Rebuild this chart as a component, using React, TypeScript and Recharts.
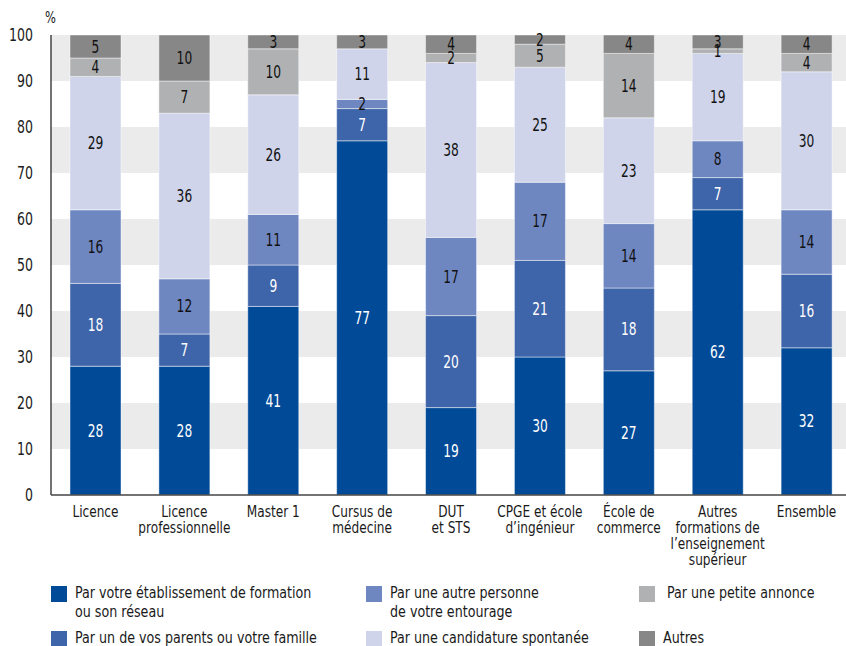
import React from 'react';
import { BarChart, Bar, XAxis, YAxis, CartesianGrid, LabelList } from 'recharts';

const categories = [
  'Licence',
  'Licence\nprofessionnelle',
  'Master 1',
  'Cursus de\nmédecine',
  'DUT\net STS',
  'CPGE et école\nd’ingénieur',
  'École de\ncommerce',
  'Autres\nformations de\nl’enseignement\nsupérieur',
  'Ensemble',
];

const etablissement = [28, 28, 41, 77, 19, 30, 27, 62, 32];
const parents = [18, 7, 9, 7, 20, 21, 18, 7, 16];
const entourage = [16, 12, 11, 2, 17, 17, 14, 8, 14];
const spontanee = [29, 36, 26, 11, 38, 25, 23, 19, 30];
const annonce = [4, 7, 10, 0, 2, 5, 14, 1, 4];
const autres = [5, 10, 3, 3, 4, 2, 4, 3, 4];

const yTicks = [0, 10, 20, 30, 40, 50, 60, 70, 80, 90, 100];

const series = [
  { key: 'etablissement', name: 'Par votre établissement de formation\nou son réseau', color: '#004a97', text: '#ffffff', values: etablissement },
  { key: 'parents', name: 'Par un de vos parents ou votre famille', color: '#3e64a9', text: '#ffffff', values: parents },
  { key: 'entourage', name: 'Par une autre personne\nde votre entourage', color: '#6f87c1', text: '#111111', values: entourage },
  { key: 'spontanee', name: 'Par une candidature spontanée', color: '#cfd4ea', text: '#111111', values: spontanee },
  { key: 'annonce', name: ' Par une petite annonce', color: '#b0b1b3', text: '#111111', values: annonce },
  { key: 'autres', name: 'Autres', color: '#878787', text: '#111111', values: autres },
];

const data = categories.map((c, i) => {
  const row: Record<string, any> = { cat: c };
  series.forEach((s) => {
    row[s.key] = s.values[i];
  });
  return row;
});

const FONT = '"DejaVu Sans Condensed", "DejaVu Sans", sans-serif';

const XTick = (props: any) => {
  const { x, y, payload } = props;
  const lines = String(payload.value).split('\n');
  return (
    <g transform={`translate(${x},${y})`}>
      {lines.map((l: string, i: number) => (
        <text
          key={i}
          transform={`translate(0,${22 + i * 16}) scale(0.9,1)`}
          textAnchor="middle"
          fontSize={15}
          fill="#1a1a1a"
          fontFamily={FONT}
        >
          {l}
        </text>
      ))}
    </g>
  );
};

const YTick = (props: any) => {
  const { x, y, payload } = props;
  return (
    <text
      transform={`translate(${x},${y + 6}) scale(0.82,1)`}
      textAnchor="end"
      fontSize={17}
      fill="#1a1a1a"
      fontFamily={FONT}
    >
      {payload.value}
    </text>
  );
};

const makeLabel = (color: string) => (props: any) => {
  const { x, y, width, height, value } = props;
  if (!value) return null;
  const cx = Number(x) + Number(width) / 2;
  const cy = Number(y) + Number(height) / 2;
  return (
    <text
      transform={`translate(${cx},${cy + 6}) scale(0.8,1)`}
      textAnchor="middle"
      fontSize={17}
      fill={color}
      fontFamily={FONT}
    >
      {value}
    </text>
  );
};

const legendPos = [
  { col: 0, row: 0 },
  { col: 0, row: 1 },
  { col: 1, row: 0 },
  { col: 1, row: 1 },
  { col: 2, row: 0 },
  { col: 2, row: 1 },
];
const colX = [51, 366, 639];
const rowY = [586, 631];

export default function App() {
  return (
    <div style={{ position: 'absolute', left: 0, top: 0, width: 846, height: 646, overflow: 'hidden', background: '#fff', fontFamily: FONT }}>
      <div style={{ position: 'absolute', left: 45, top: 9, fontSize: 15, color: '#1a1a1a', transform: 'scaleX(0.85)', transformOrigin: 'left top' }}>%</div>
      <BarChart
        width={851}
        height={580}
        data={data}
        margin={{ top: 35, right: 0, left: 0, bottom: 0 }}
        barSize={51}
      >
        <CartesianGrid
          vertical={false}
          horizontal={true}
          stroke="#ffffff"
          strokeOpacity={0}
          horizontalFill={['#ebebeb', '#ffffff']}
          fillOpacity={1}
        />
        <XAxis
          dataKey="cat"
          height={85}
          tickLine={false}
          tickSize={0}
          tickMargin={0}
          interval={0}
          tick={<XTick />}
          axisLine={{ stroke: '#444', strokeWidth: 1.5 }}
        />
        <YAxis
          width={51}
          domain={[0, 100]}
          ticks={yTicks}
          interval={0}
          tickLine={false}
          tickSize={0}
          tickMargin={18}
          axisLine={{ stroke: '#444', strokeWidth: 1.5 }}
          tick={<YTick />}
        />
        {series.map((s) => (
          <Bar
            key={s.key}
            dataKey={s.key}
            stackId="a"
            fill={s.color}
            stroke="rgba(255,255,255,0.45)"
            strokeWidth={1}
            isAnimationActive={false}
          >
            <LabelList dataKey={s.key} content={makeLabel(s.text)} />
          </Bar>
        ))}
      </BarChart>
      {series.map((s, i) => {
        const p = legendPos[i];
        const lines = s.name.split('\n');
        return (
          <div key={s.key} style={{ position: 'absolute', left: colX[p.col], top: rowY[p.row], display: 'flex', alignItems: 'flex-start' }}>
            <div style={{ width: 16, height: 16, background: s.color, flex: 'none' }} />
            <div
              style={{
                marginLeft: 8,
                fontSize: 15,
                lineHeight: '19px',
                marginTop: -2,
                color: '#1a1a1a',
                whiteSpace: 'pre',
                transform: 'scaleX(0.94)',
                transformOrigin: 'left top',
              }}
            >
              {lines.map((l, j) => (
                <div key={j}>{l}</div>
              ))}
            </div>
          </div>
        );
      })}
    </div>
  );
}
